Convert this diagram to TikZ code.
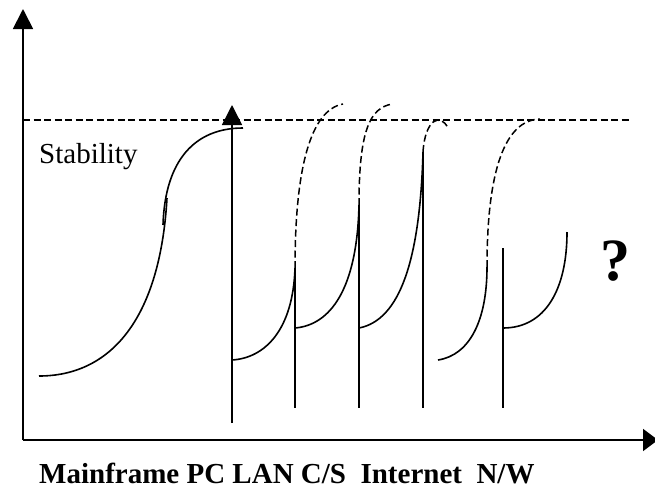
\documentclass[tikz,border=0pt]{standalone}
\usepackage{fontspec}
\setmainfont{Liberation Serif}
\usetikzlibrary{arrows.meta}
\begin{document}
\begin{tikzpicture}[x=1pt,y=-1pt,
  axis/.style={line width=1.8pt,-{Triangle[length=20pt,width=20pt]}},
  curve/.style={line width=1.6pt},
  ext/.style={line width=1.5pt,dash pattern=on 7pt off 3.5pt},
  lbl/.style={inner sep=0pt,font=\fontsize{29}{34}\selectfont}]
\useasboundingbox (0,0) rectangle (655,488);
% axes
\coordinate (O) at (23,440);
\coordinate (ytop) at (23,9);
\coordinate (xend) at (658,440);
\draw[axis] (O) -- (ytop);
\draw[line width=1.8pt,-{Triangle[length=15pt,width=22pt]}] (O) -- (xend);
% stability level
\draw[ext] (23,120) -- (632,120);
\node[lbl,anchor=base west] (stab) at (39,163) {Stability};
% first S-curve
\draw[curve] (39,376) .. controls (110,376) and (160,320) .. (167,198);
\draw[curve] (163,225) .. controls (165,160) and (195,128) .. (243,128);
% vertical V1 with arrow
\draw[axis,line width=1.6pt] (232,423) -- (232,105);
% curve 1
\draw[curve] (232,360) .. controls (265,358) and (293,330) .. (295,268);
\draw[ext] (295,268) .. controls (295,170) and (310,110) .. (343,104);
\draw[curve] (295,268) -- (295,408);
% curve 2
\draw[curve] (295,328) .. controls (330,325) and (357,290) .. (359,205);
\draw[ext] (359,205) .. controls (359,130) and (370,108) .. (392,104);
\draw[curve] (359,205) -- (359,408);
% curve 3
\draw[curve] (359,328) .. controls (400,320) and (420,260) .. (423,152);
\draw[ext] (423,152) .. controls (425,120) and (440,112) .. (448,128);
\draw[curve] (423,152) -- (423,408);
% curve 4
\draw[curve] (438,360) .. controls (470,355) and (487,320) .. (487,267);
\draw[ext] (487,267) .. controls (487,170) and (505,120) .. (540,119);
% curve 5
\draw[curve] (503,248) -- (503,408);
\draw[curve] (503,328) .. controls (545,328) and (567,290) .. (567,232);
% question mark
\node[inner sep=0pt,anchor=base west,font=\fontsize{60}{70}\selectfont\bfseries] (q) at (600,280) {?};
% bottom label
\node[lbl,anchor=base west,font=\fontsize{29}{34}\selectfont\bfseries] (eras) at (39,483) {Mainframe PC LAN C/S\ \ Internet\ \ N/W};
\end{tikzpicture}
\end{document}
